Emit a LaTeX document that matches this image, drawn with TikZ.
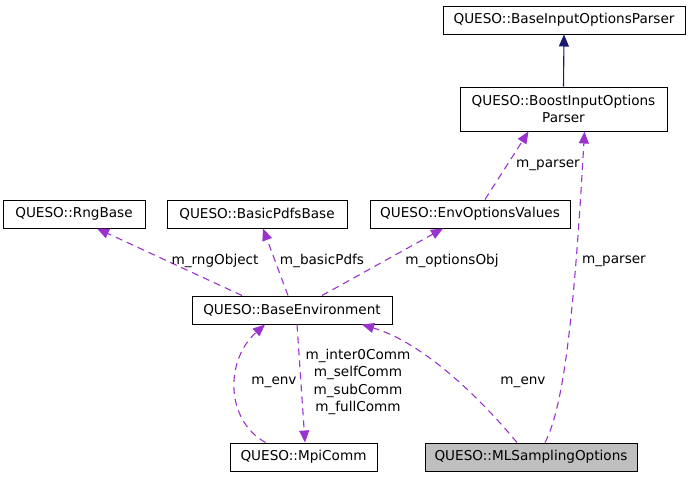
\documentclass[tikz,border=0pt]{standalone}
\usepackage{fontspec}
\setmainfont{DejaVu Sans}
\usetikzlibrary{arrows.meta,calc}
\definecolor{orchid}{HTML}{9A32CD}
\definecolor{navy}{HTML}{191970}

\begin{document}
\begin{tikzpicture}[x=1pt, y=-1pt,
    cls/.style={draw, line width=1pt, minimum height=28pt, inner sep=0pt, align=center,
      font=\fontsize{13.6}{17}\selectfont},
    member/.style={orchid, line width=1.1pt, dash pattern=on 7pt off 5pt,
      -{Triangle[length=12pt,width=10pt]}},
    inherit/.style={navy, line width=1.1pt, -{Triangle[length=12pt,width=10pt]}},
    lbl/.style={align=center, inner sep=0pt, font=\fontsize{13.6}{17.5}\selectfont}
  ]
  \useasboundingbox (0,0) rectangle (691,477);

  \node[cls, minimum width=242pt] (parser) at (564,20) {QUESO::BaseInputOptionsParser};
  \node[cls, minimum width=207pt, minimum height=44pt] (boost) at (563.5,109) {QUESO::BoostInputOptions\\Parser};
  \node[cls, minimum width=142pt] (rng) at (74,214) {QUESO::RngBase};
  \node[cls, minimum width=180pt] (pdfs) at (257,214) {QUESO::BasicPdfsBase};
  \node[cls, minimum width=200pt] (envopt) at (470,214) {QUESO::EnvOptionsValues};
  \node[cls, minimum width=200pt] (env) at (292,310) {QUESO::BaseEnvironment};
  \node[cls, minimum width=147pt] (mpi) at (303.5,457) {QUESO::MpiComm};
  \node[cls, minimum width=212pt, fill=gray!50] (ml) at (531,457) {QUESO::MLSamplingOptions};

  % inheritance
  \draw[inherit] (boost.north) -- (parser.south);

  % members
  \draw[member] ([xshift=15pt]envopt.north) -- ([xshift=-35pt]boost.south);
  \draw[member] ([xshift=14pt]ml.north) .. controls (565,405) and (575,300) .. ([xshift=21pt]boost.south);
  \draw[member] ([xshift=-50pt]env.north) -- ([xshift=23pt]rng.south);
  \draw[member] ([xshift=-4pt]env.north) -- ([xshift=6pt]pdfs.south);
  \draw[member] ([xshift=30pt]env.north) -- ([xshift=-27pt]envopt.south);
  \draw[member] ([xshift=-38pt]mpi.north) .. controls (225,420) and (225,360) .. ([xshift=-27pt]env.south);
  \draw[member] ([xshift=5pt]env.south) -- ([xshift=1.5pt]mpi.north);
  \draw[member] ([xshift=-14pt]ml.north) .. controls (490,410) and (430,345) .. ([xshift=70pt]env.south);

  \node[lbl] (l1) at (548,165) {m\_parser};
  \node[lbl] (l2) at (614,261) {m\_parser};
  \node[lbl] (l3) at (215,261) {m\_rngObject};
  \node[lbl] (l4) at (322,261) {m\_basicPdfs};
  \node[lbl] (l5) at (452,261) {m\_optionsObj};
  \node[lbl] (l6) at (274,382) {m\_env};
  \node[lbl] (l7) at (358,382) {m\_inter0Comm\\m\_selfComm\\m\_subComm\\m\_fullComm};
  \node[lbl] (l8) at (523,382) {m\_env};
\end{tikzpicture}
\end{document}
